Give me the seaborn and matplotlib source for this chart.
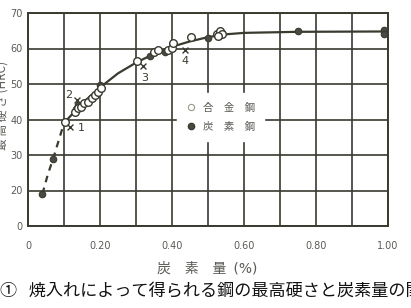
import matplotlib
matplotlib.use("Agg")
import matplotlib.pyplot as plt
from matplotlib.lines import Line2D
import seaborn as sns
import pandas as pd

# ---- data ----
alloy_c = [0.103, 0.130, 0.139, 0.147, 0.156, 0.167, 0.178, 0.186, 0.194, 0.203,
           0.303, 0.350, 0.360, 0.390, 0.400, 0.402, 0.453, 0.525, 0.533, 0.540, 0.528]
alloy_v = [39.3, 42.1, 43.2, 43.5, 44.6, 44.9, 46.1, 46.9, 47.7, 48.9,
           56.5, 59.0, 59.6, 59.6, 60.1, 61.5, 63.3, 64.0, 64.8, 64.2, 63.6]
carbon_c = [0.040, 0.070, 0.133, 0.139, 0.200, 0.340, 0.380, 0.500, 0.530, 0.540, 0.750, 0.990, 0.990]
carbon_v = [19.0, 29.0, 43.0, 44.1, 49.7, 57.8, 59.0, 63.0, 63.5, 64.5, 64.8, 65.2, 64.0]
cross_c = [0.117, 0.136, 0.320, 0.436]
cross_v = [37.9, 45.5, 55.0, 59.6]
cross_lbl = ["1", "2", "3", "4"]
dash_c = [0.040, 0.055, 0.070, 0.085, 0.100]
dash_v = [19.0, 24.5, 29.0, 34.0, 39.0]
solid_c = [0.100, 0.150, 0.200, 0.250, 0.300, 0.350, 0.400, 0.450, 0.500, 0.550, 0.600, 0.750, 1.000]
solid_v = [39.0, 44.5, 49.0, 53.0, 56.0, 58.5, 60.5, 62.0, 63.2, 64.0, 64.4, 64.7, 64.8]
x_ticks = [0, 0.2, 0.4, 0.6, 0.8, 1.0]
x_ticklabels = ["0", "0.20", "0.40", "0.60", "0.80", "1.00"]
y_ticks = [10, 20, 30, 40, 50, 60, 70]
y_ticklabels = ["0", "20", "30", "40", "50", "60", "70"]

sns.set_style("white")
plt.rcParams['font.family'] = ['DejaVu Sans', 'Noto Sans CJK JP']
CJK = ['Noto Sans CJK JP', 'DejaVu Sans']
INK = "#3a3a30"
GRAY = "#5a5a55"

fig = plt.figure(figsize=(4.11, 3.08), dpi=100)
fig.patch.set_facecolor("white")
W, H = 411, 308
ax = fig.add_axes([28 / W, (H - 226) / H, 360 / W, (226 - 13) / H])
ax.set_facecolor("white")

ax.set_xlim(0, 1.0)
ax.set_ylim(10, 70)
ax.set_yticks(y_ticks)
ax.set_axisbelow(True)
for s in ax.spines.values():
    s.set_color(INK)
    s.set_linewidth(1.4)

df_dash = pd.DataFrame({"c": dash_c, "v": dash_v})
df_solid = pd.DataFrame({"c": solid_c, "v": solid_v})
sns.lineplot(data=df_dash, x="c", y="v", ax=ax, color=INK, lw=1.6, linestyle=(0, (3, 2.5)), sort=False)
sns.lineplot(data=df_solid, x="c", y="v", ax=ax, color=INK, lw=1.6, sort=False)

df_a = pd.DataFrame({"c": alloy_c, "v": alloy_v})
df_b = pd.DataFrame({"c": carbon_c, "v": carbon_v})
sns.scatterplot(data=df_b, x="c", y="v", ax=ax, s=22, color="#4a4a42", edgecolor=INK, linewidth=0.8, zorder=4)
sns.scatterplot(data=df_a, x="c", y="v", ax=ax, s=30, facecolor="white", edgecolor=INK, linewidth=1.0, zorder=5)
df_x = pd.DataFrame({"c": cross_c, "v": cross_v})
sns.scatterplot(data=df_x, x="c", y="v", ax=ax, marker="x", s=18, color=INK, linewidth=1.0, zorder=6)

offs = [(0.03, -0.4), (-0.022, 1.5), (0.004, -3.3), (0.0, -3.2)]
for c, v, t, (dx, dy) in zip(cross_c, cross_v, cross_lbl, offs):
    ax.text(c + dx, v + dy, t, fontsize=8, color=INK, ha="center", va="center", zorder=7)

ax.set_xticks(x_ticks, minor=False)
ax.set_xticks([i / 10 for i in range(11)], minor=True)
ax.grid(True, which="both", color=INK, lw=1.2)
ax.set_xticklabels(x_ticklabels, fontsize=7, color=GRAY)
ax.set_yticklabels(y_ticklabels, fontsize=7, color=GRAY)
ax.tick_params(axis="both", which="both", length=0)
ax.tick_params(axis="x", pad=11)
ax.tick_params(axis="y", pad=4)
ax.set_xlabel("")
ax.set_ylabel("")

handles = [
    Line2D([], [], marker="o", ls="none", markerfacecolor="white", markeredgecolor="#999990", markersize=4.5, markeredgewidth=0.8),
    Line2D([], [], marker="o", ls="none", markerfacecolor="#4a4a42", markeredgecolor=INK, markersize=4.5),
]
leg = ax.legend(handles, ["合\u2002\u2002金\u2002\u2002鋼", "炭\u2002\u2002素\u2002\u2002鋼"], loc="center",
                bbox_to_anchor=(0.535, 0.51), frameon=True, fancybox=False,
                prop={"family": ['DejaVu Sans', 'Noto Sans CJK JP'], "size": 7.5}, handletextpad=0.6,
                labelspacing=0.9, borderpad=0.9, handlelength=1.0)
leg.get_frame().set_facecolor("white")
leg.get_frame().set_edgecolor("white")
leg.get_frame().set_alpha(1.0)
for t in leg.get_texts():
    t.set_color(GRAY)
leg.set_zorder(3)

fig.text(207 / W, 1 - 268 / H, "炭\u2003素\u2003量\u2002(%)", family=['DejaVu Sans', 'Noto Sans CJK JP'],
         fontsize=10, color=GRAY, ha="center", va="center")
fig.text(2 / W, 1 - 105 / H, "最 高 硬 さ (HRC)", family=CJK, fontsize=8.5, color=GRAY,
         ha="center", va="center", rotation=90)
fig.text(0 / W, 1 - 292 / H, "①   焼入れによって得られる鋼の最高硬さと炭素量の関係", family=CJK,
         fontsize=12.3, color="#111111", ha="left", va="center")

fig.savefig("out.png", dpi=100, facecolor="white")
